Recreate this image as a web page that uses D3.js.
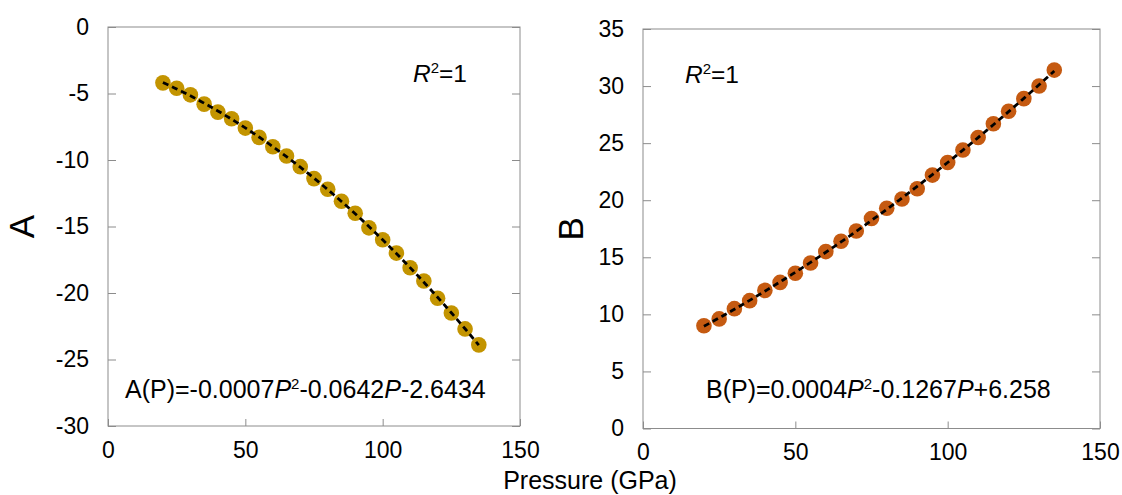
<!DOCTYPE html>
<html><head><meta charset="utf-8">
<script src="https://cdn.jsdelivr.net/npm/d3@7"></script>
<style>
body{margin:0;background:#fff}
text{font-family:"Liberation Sans",Arial,sans-serif;fill:#000}
</style>
</head><body>
<svg id="c" width="1122" height="495"></svg>
<script>
// ---- data ----
const pressure = [20,25,30,35,40,45,50,55,60,65,70,75,80,85,90,95,100,105,110,115,120,125,130,135];
const valuesA = [-4.2,-4.6,-5.1,-5.8,-6.4,-6.9,-7.6,-8.3,-9.0,-9.7,-10.5,-11.4,-12.2,-13.1,-14.0,-15.1,-16.0,-17.0,-18.1,-19.1,-20.4,-21.5,-22.7,-23.9];
const valuesB = [9.0,9.6,10.5,11.2,12.1,12.8,13.6,14.5,15.5,16.4,17.3,18.4,19.3,20.1,21.0,22.2,23.3,24.4,25.5,26.7,27.8,28.9,30.0,31.4];
const xTicks = [0,50,100,150];
const yTicksA = [0,-5,-10,-15,-20,-25,-30];
const yTicksB = [0,5,10,15,20,25,30,35];
const labelA = "A", labelB = "B", xLabel = "Pressure (GPa)";

// least-squares quadratic fit (as a spreadsheet trendline does)
function fitQuad(xs, ys){
  let S=[0,0,0,0,0], T=[0,0,0];
  xs.forEach((x,i)=>{const y=ys[i];let p=1;for(let k=0;k<5;k++){S[k]+=p;if(k<3)T[k]+=p*y;p*=x;}});
  const M=[[S[0],S[1],S[2],T[0]],[S[1],S[2],S[3],T[1]],[S[2],S[3],S[4],T[2]]];
  for(let i=0;i<3;i++){for(let j=i+1;j<3;j++){const f=M[j][i]/M[i][i];for(let k=i;k<4;k++)M[j][k]-=f*M[i][k];}}
  const c=[0,0,0];
  for(let i=2;i>=0;i--){let s=M[i][3];for(let k=i+1;k<3;k++)s-=M[i][k]*c[k];c[i]=s/M[i][i];}
  return x=>c[0]+c[1]*x+c[2]*x*x;
}

const svg = d3.select("#c");
const axisColor = "#8c8c8c";

function panel(cfg){
  const g = svg.append("g");
  const x = d3.scaleLinear().domain([0,150]).range([cfg.x0,cfg.x1]);
  const y = d3.scaleLinear().domain(cfg.ydom).range([cfg.yb,cfg.yt]);

  // frame
  g.append("rect").attr("x",cfg.x0).attr("y",cfg.yt)
   .attr("width",cfg.x1-cfg.x0).attr("height",cfg.yb-cfg.yt)
   .attr("fill","none").attr("stroke",axisColor).attr("stroke-width",1);

  const fmt = d => String(d);
  const yl = g.append("g").attr("transform",`translate(${cfg.x0},0)`)
    .call(d3.axisLeft(y).tickValues(cfg.yticks).tickSizeInner(-8).tickSizeOuter(0).tickPadding(19).tickFormat(fmt));
  const yr = g.append("g").attr("transform",`translate(${cfg.x1},0)`)
    .call(d3.axisRight(y).tickValues(cfg.yticks).tickSizeInner(-8).tickSizeOuter(0).tickFormat(""));
  const xb = g.append("g").attr("transform",`translate(0,${cfg.yb})`)
    .call(d3.axisBottom(x).tickValues(xTicks).tickSizeInner(-7).tickSizeOuter(0).tickPadding(cfg.xpad).tickFormat(fmt));
  [yl,yr,xb].forEach(a=>{
    a.select(".domain").remove();
    a.selectAll(".tick line").attr("stroke",axisColor);
    a.selectAll(".tick text").style("font-size","23px").style("font-family",'"Liberation Sans",Arial,sans-serif').attr("fill","#000");
  });

  // markers
  g.append("g").selectAll("circle").data(pressure).join("circle")
    .attr("cx",(d)=>x(d)).attr("cy",(d,i)=>y(cfg.vals[i])).attr("r",7.8)
    .attr("fill",cfg.color);

  // trendline
  const f = fitQuad(pressure,cfg.vals);
  const xs = d3.range(pressure[0], pressure[pressure.length-1]+0.01, 1);
  g.append("path").datum(xs)
    .attr("d",d3.line().x(d=>x(d)).y(d=>y(f(d))))
    .attr("fill","none").attr("stroke","#000").attr("stroke-width",2.8)
    .attr("stroke-dasharray","6,4");

  // R^2
  const r = g.append("text").attr("x",cfg.rx).attr("y",cfg.ry).style("font-size","24.5px");
  r.append("tspan").style("font-style","italic").text("R");
  r.append("tspan").attr("dy",-9).style("font-size","15px").text("2");
  r.append("tspan").attr("dy",9).text("=1");

  // equation
  const e = g.append("text").attr("x",cfg.ex).attr("y",cfg.ey).style("font-size","25px");
  cfg.eq.forEach(p=>{
    const t = e.append("tspan").text(p.t);
    if(p.i) t.style("font-style","italic");
    if(p.s) t.attr("dy",-9).style("font-size","15px");
    if(p.d) t.attr("dy",9);
  });

  // y title
  g.append("text").attr("transform",`translate(${cfg.tx},${(cfg.yt+cfg.yb)/2}) rotate(-90)`)
    .attr("text-anchor","middle").style("font-size","35px").text(cfg.title);
}

panel({x0:108,x1:520,yt:27,yb:426,ydom:[-30,0],yticks:yTicksA,vals:valuesA,color:"#C39400",
  xpad:16,rx:413,ry:82,ex:125,ey:398,tx:34,title:labelA,
  eq:[{t:"A(P)=-0.0007"},{t:"P",i:1},{t:"2",s:1},{t:"-0.0642",d:1},{t:"P",i:1},{t:"-2.6434"}]});
panel({x0:643,x1:1100,yt:29,yb:428.5,ydom:[0,35],yticks:yTicksB,vals:valuesB,color:"#C55A11",
  xpad:15,rx:685,ry:83,ex:706,ey:398,tx:583,title:labelB,
  eq:[{t:"B(P)=0.0004"},{t:"P",i:1},{t:"2",s:1},{t:"-0.1267",d:1},{t:"P",i:1},{t:"+6.258"}]});

svg.append("text").attr("x",590).attr("y",489).attr("text-anchor","middle")
  .style("font-size","25px").text(xLabel);
</script>
</body></html>
